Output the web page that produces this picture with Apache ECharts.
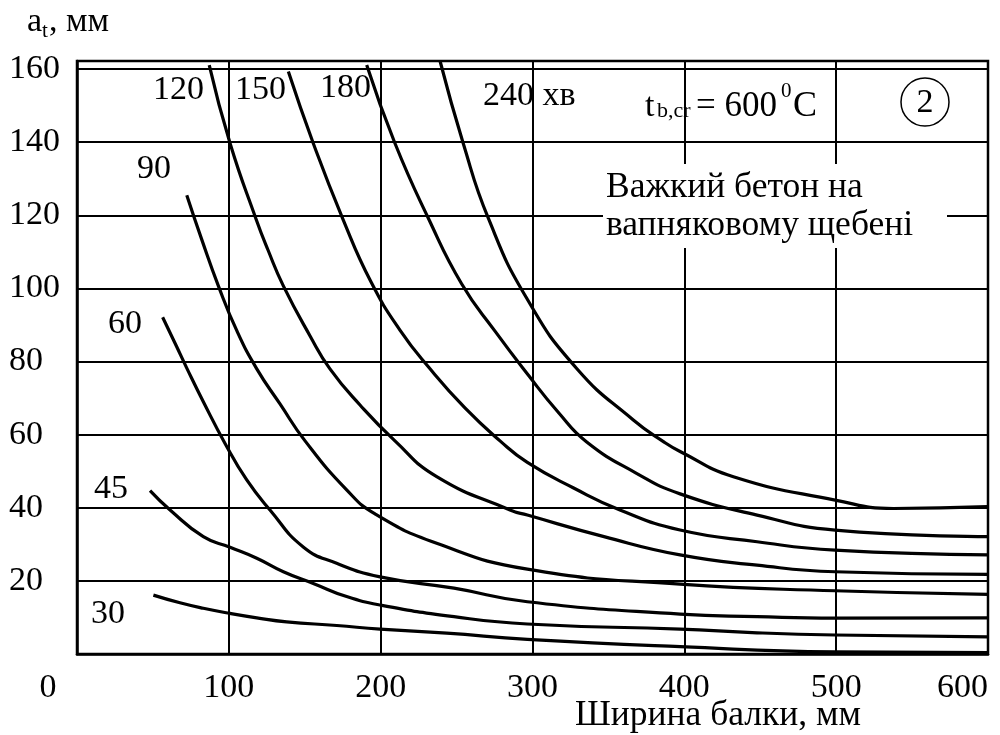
<!DOCTYPE html>
<html>
<head>
<meta charset="utf-8">
<script src="https://cdn.jsdelivr.net/npm/echarts@6/dist/echarts.min.js"></script>
<style>
  html, body { margin: 0; padding: 0; background: #fff; }
  #chart { width: 1000px; height: 735px; }
</style>
</head>
<body>
<div id="chart"></div>
<script>
// Axis ticks: beam width (mm) and reinforcement axis distance a_t (mm)
const xTicks = [0, 100, 200, 300, 400, 500, 600];
const yTicks = [20, 40, 60, 80, 100, 120, 140, 160];
const xMax = 600;
const yMax = 162.2;

// Fire resistance, minutes (one curve each)
const fireMinutes = ['30', '45', '60', '90', '120', '150', '180', '240'];

// [beam width, a_t] along each curve
const curve30 = [[50.3, 16.1], [67.8, 14.0], [83.2, 12.5], [100.8, 11.1], [118.4, 9.9], [138.1, 8.8], [171.1, 7.8], [199.6, 6.8], [243.5, 5.7], [296.6, 4.0], [397.2, 2.0], [499.3, 0.6], [600, 0.4]];
const curve45 = [[48.1, 44.7], [61.3, 39.4], [83.2, 32.1], [100.8, 29.2], [118.4, 26.2], [135.9, 22.5], [155.6, 19.3], [177.6, 15.7], [199.6, 13.4], [248.3, 10.2], [296.6, 8.2], [397.2, 6.8], [447.9, 5.8], [499.3, 5.2], [600, 4.7]];
const curve60 = [[56.4, 92.1], [65.6, 84.1], [72.3, 78.2], [83.2, 69.0], [97.5, 57.6], [111.8, 47.6], [127.1, 39.4], [149.0, 29.3], [171.0, 24.8], [199.6, 21.1], [248.3, 18.0], [296.6, 14.3], [397.2, 10.9], [447.9, 10.2], [499.3, 9.8], [600, 9.9]];
const curve90 = [[72.3, 125.5], [82.3, 113.2], [93.1, 100.7], [105.4, 88.3], [118.4, 78.0], [133.7, 68.4], [150.2, 58.3], [177.6, 44.9], [196.3, 38.3], [236.9, 30.3], [296.6, 23.2], [397.2, 19.1], [499.3, 17.3], [600, 16.3]];
const curve120 = [[87.1, 161.1], [100.8, 139.7], [117.9, 119.0], [125.8, 110.5], [135.9, 100.7], [153.5, 87.0], [166.6, 78.0], [186.4, 68.1], [209.4, 58.3], [236.9, 48.5], [285.2, 39.4], [296.6, 38.0], [347.1, 32.1], [397.2, 27.1], [447.9, 24.3], [499.3, 22.5], [600, 21.8]];
const curve150 = [[139.2, 159.3], [155.6, 139.7], [175.4, 118.7], [193.6, 101.8], [212.7, 88.6], [232.5, 78.0], [255.5, 67.3], [278.6, 58.3], [296.6, 52.4], [327.1, 45.4], [357.6, 39.4], [397.2, 33.9], [447.9, 30.7], [499.3, 28.4], [600, 27.1]];
const curve180 = [[190.8, 161.1], [209.4, 139.7], [231.4, 119.2], [253.4, 101.2], [275.3, 88.3], [297.2, 76.3], [316.8, 66.2], [335.7, 58.0], [368.2, 49.5], [397.2, 43.8], [447.9, 38.0], [499.3, 33.9], [600, 32.1]];
const curve240 = [[239.1, 162.2], [254.5, 139.5], [270.9, 119.2], [296.2, 97.3], [329.1, 78.1], [366.4, 64.0], [386.2, 58.1], [397.2, 55.4], [432.3, 48.5], [499.3, 42.1], [537.7, 39.8], [600, 40.3]];

const curves = [curve30, curve45, curve60, curve90, curve120, curve150, curve180, curve240];

const FONT = '"Liberation Serif", "Times New Roman", serif';

function label(text, x, y, size, align) {
  return {
    type: 'text', x: x, y: y, z: 30, silent: true,
    style: { text: text, fontFamily: FONT, fontSize: size, fill: '#000', align: align || 'left', verticalAlign: 'middle' }
  };
}

const chart = echarts.init(document.getElementById('chart'), null, { renderer: 'canvas' });

chart.setOption({
  animation: false,
  backgroundColor: '#fff',
  grid: {
    left: 77, right: 12, top: 61, bottom: 81,
    show: true, borderColor: '#000', borderWidth: 2.5, backgroundColor: 'transparent'
  },
  xAxis: {
    type: 'value', min: 0, max: xMax, interval: 100,
    axisLine: { show: true, lineStyle: { color: '#000', width: 2.5 } },
    axisTick: { show: false },
    splitLine: { show: true, lineStyle: { color: '#000', width: 2 } },
    axisLabel: {
      color: '#000', fontFamily: FONT, fontSize: 34, margin: 17,
      showMinLabel: false, alignMaxLabel: 'right',
      formatter: v => (xTicks.indexOf(v) > 0 ? String(v) : '')
    }
  },
  yAxis: {
    type: 'value', min: 0, max: yMax, interval: 20,
    axisLine: { show: true, lineStyle: { color: '#000', width: 2.5 } },
    axisTick: { show: false },
    splitLine: { show: true, lineStyle: { color: '#000', width: 2 } },
    axisLabel: {
      color: '#000', fontFamily: FONT, fontSize: 34, margin: 68, align: 'left',
      showMinLabel: false, showMaxLabel: false,
      formatter: v => (yTicks.indexOf(v) >= 0 ? String(v) : '')
    }
  },
  series: curves.map((d, i) => ({
    type: 'line', name: fireMinutes[i], data: d,
    showSymbol: false, smooth: 0.5, silent: true, clip: true, z: 3,
    lineStyle: { color: '#000', width: 3.2 }
  })),
  graphic: [
    // white panel behind the concrete note
    { type: 'rect', z: 25, silent: true, shape: { x: 603, y: 164, width: 344, height: 84 }, style: { fill: '#fff' } },

    // y axis title a_t, мм
    label('a', 27, 22, 34),
    label('t', 42, 31, 21),
    label(', мм', 49, 22, 34),

    // x axis title and origin
    label('Ширина балки, мм', 575, 716, 35.5),
    label('0', 48, 688, 34, 'center'),

    // curve labels, minutes
    label('120', 153, 90, 34),
    label('150', 235, 90, 34),
    label('180', 320, 88, 34),
    label('240 хв', 483, 96, 34),
    label('90', 137, 169, 34),
    label('60', 108, 324, 34),
    label('45', 94, 489, 34),
    label('30', 91, 614, 34),

    // critical temperature
    label('t', 645, 107, 34),
    label('b,cr', 657, 111, 22),
    label('= 600', 696, 107, 35),
    label('0', 781, 91, 21),
    label('C', 793, 107, 36),

    // panel number
    { type: 'circle', z: 30, silent: true, shape: { cx: 925, cy: 102, r: 24 }, style: { fill: 'none', stroke: '#000', lineWidth: 1.5 } },
    label('2', 925, 103, 34, 'center'),

    // concrete type
    label('Важкий бетон на', 606, 188, 35.5),
    label('вапняковому щебені', 606, 226, 35.5)
  ]
});
</script>
</body>
</html>
